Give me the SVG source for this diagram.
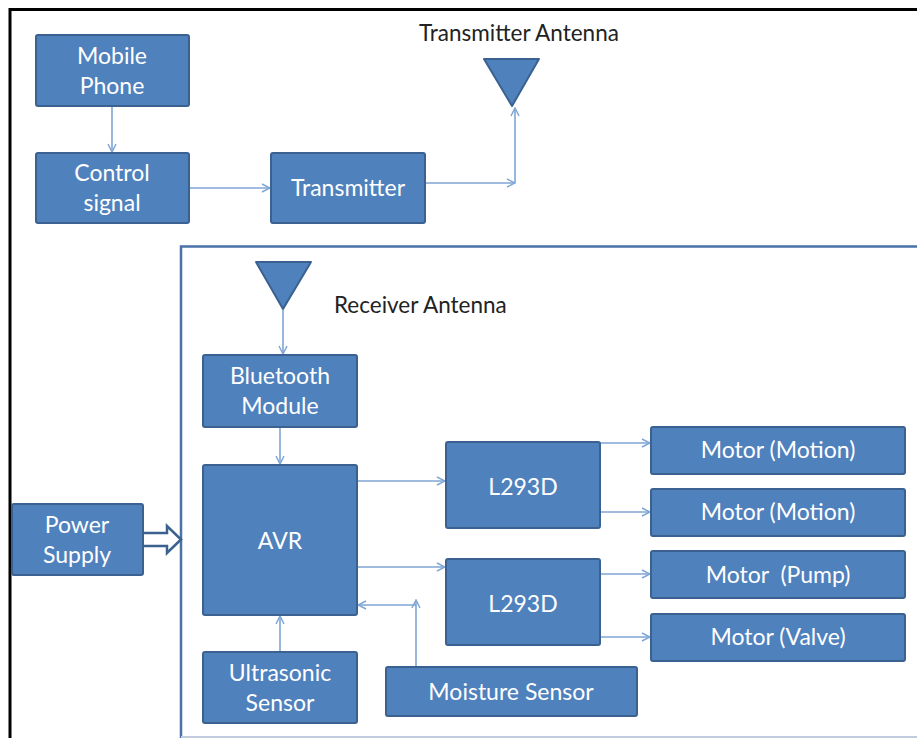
<svg xmlns="http://www.w3.org/2000/svg" width="917" height="738" viewBox="0 0 917 738">
<defs>
<style>
.box{fill:#4F81BD;stroke:#3A6190;stroke-width:2}
.lbl{font-family:Lato,"Open Sans","Liberation Sans",sans-serif;font-size:23px;fill:#FFFFFF;text-anchor:middle}
.cap{font-family:Lato,"Open Sans","Liberation Sans",sans-serif;font-size:22.5px;fill:#222222}
.con{fill:none;stroke:#7FA6D6;stroke-width:1.6}
</style>
<marker id="ah" viewBox="0 0 10 10" refX="9" refY="5" markerWidth="10" markerHeight="10" markerUnits="userSpaceOnUse" orient="auto">
<path d="M1,1 L9,5 L1,9" fill="none" stroke="#7FA6D6" stroke-width="1.5"/>
</marker>
</defs>
<rect width="917" height="738" fill="#FFFFFF"/>
<g id="frames">
<path d="M10,738 L10,9.5 L917,9.5" fill="none" stroke="#000000" stroke-width="3"/>
<path d="M181,738 L181,246.5 L917,246.5" fill="none" stroke="#4A72A8" stroke-width="2.5"/>
<path d="M181,737 L917,737" fill="none" stroke="#C0CCDD" stroke-width="2"/>
</g>
<g id="connectors">
<path class="con" d="M112,106 L112,152" marker-end="url(#ah)"/>
<path class="con" d="M189,188 L270,188" marker-end="url(#ah)"/>
<path class="con" d="M425,183 L515,183" marker-end="url(#ah)"/>
<path class="con" d="M515,183 L515,108" marker-end="url(#ah)"/>
<path class="con" d="M283,310 L283,354" marker-end="url(#ah)"/>
<path class="con" d="M280,428 L280,464" marker-end="url(#ah)"/>
<path class="con" d="M280,652 L280,616" marker-end="url(#ah)"/>
<path class="con" d="M357,481 L445,481" marker-end="url(#ah)"/>
<path class="con" d="M357,567 L445,567" marker-end="url(#ah)"/>
<path class="con" d="M416,667 L416,600" marker-end="url(#ah)"/>
<path class="con" d="M416,605 L358,605" marker-end="url(#ah)"/>
<path class="con" d="M600,443 L650,443" marker-end="url(#ah)"/>
<path class="con" d="M600,512 L650,512" marker-end="url(#ah)"/>
<path class="con" d="M600,574 L650,574" marker-end="url(#ah)"/>
<path class="con" d="M600,637 L650,637" marker-end="url(#ah)"/>
<path d="M143,533 L167,533 L167,526 L181,539.5 L167,553 L167,546 L143,546" fill="#FFFFFF" stroke="#3A6190" stroke-width="2.5" stroke-linejoin="miter"/>
</g>
<g id="mobile_phone"><rect class="box" x="36" y="35" width="153" height="71" rx="2"/><text class="lbl" x="112" y="64">Mobile</text><text class="lbl" x="112" y="94">Phone</text></g>
<g id="control_signal"><rect class="box" x="36" y="153" width="153" height="70" rx="2"/><text class="lbl" x="112" y="181">Control</text><text class="lbl" x="112" y="211">signal</text></g>
<g id="transmitter"><rect class="box" x="271" y="153" width="154" height="70" rx="2"/><text class="lbl" x="348" y="196">Transmitter</text></g>
<g id="transmitter_antenna"><polygon points="484,59 539,59 512,106" fill="#4F81BD" stroke="#3A6190" stroke-width="2" stroke-linejoin="round"/><text class="cap" x="419" y="41">Transmitter Antenna</text></g>
<g id="receiver_antenna"><polygon points="256,262 311,262 283,309" fill="#4F81BD" stroke="#3A6190" stroke-width="2" stroke-linejoin="round"/><text class="cap" x="334" y="313">Receiver Antenna</text></g>
<g id="bluetooth_module"><rect class="box" x="203" y="355" width="154" height="72" rx="2"/><text class="lbl" x="280" y="384">Bluetooth</text><text class="lbl" x="280" y="414">Module</text></g>
<g id="avr"><rect class="box" x="203" y="465" width="154" height="150" rx="2"/><text class="lbl" x="280" y="549">AVR</text></g>
<g id="ultrasonic_sensor"><rect class="box" x="203" y="652" width="154" height="71" rx="2"/><text class="lbl" x="280" y="681">Ultrasonic</text><text class="lbl" x="280" y="711">Sensor</text></g>
<g id="power_supply"><rect class="box" x="12" y="504" width="131" height="71" rx="2"/><text class="lbl" x="77" y="533">Power</text><text class="lbl" x="77" y="563">Supply</text></g>
<g id="l293d_1"><rect class="box" x="446" y="442" width="154" height="86" rx="2"/><text class="lbl" x="523" y="495">L293D</text></g>
<g id="l293d_2"><rect class="box" x="446" y="559" width="154" height="86" rx="2"/><text class="lbl" x="523" y="612">L293D</text></g>
<g id="motor_motion_1"><rect class="box" x="651" y="427" width="254" height="47" rx="2"/><text class="lbl" x="778" y="458">Motor (Motion)</text></g>
<g id="motor_motion_2"><rect class="box" x="651" y="489" width="254" height="47" rx="2"/><text class="lbl" x="778" y="520">Motor (Motion)</text></g>
<g id="motor_pump"><rect class="box" x="651" y="551" width="254" height="47" rx="2"/><text class="lbl" x="778" y="583" xml:space="preserve">Motor  (Pump)</text></g>
<g id="motor_valve"><rect class="box" x="651" y="614" width="254" height="47" rx="2"/><text class="lbl" x="778" y="645">Motor (Valve)</text></g>
<g id="moisture_sensor"><rect class="box" x="386" y="667" width="251" height="49" rx="2"/><text class="lbl" x="511" y="700">Moisture Sensor</text></g>
</svg>
